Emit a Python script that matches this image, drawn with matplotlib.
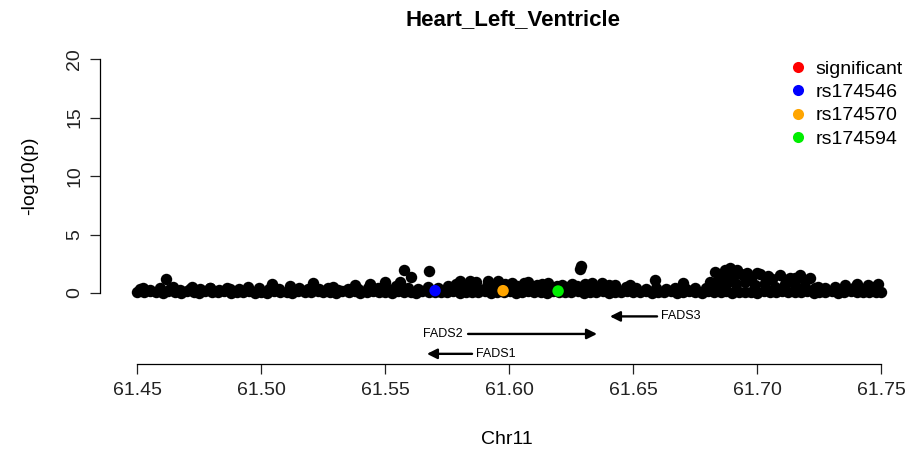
import matplotlib
matplotlib.use("Agg")
import matplotlib.pyplot as plt
from matplotlib.lines import Line2D

plt.rcParams["font.family"] = ["Liberation Sans", "DejaVu Sans"]

# ---- data ---------------------------------------------------------------
title = "Heart_Left_Ventricle"
chrom_label = "Chr11"

# SNP positions (Mb) and -log10(p)
snp_pos = [
    61.4502, 61.4527, 61.4551, 61.4578, 61.4603, 61.4626, 61.4652, 61.4677, 61.4701, 61.4728,
    61.4752, 61.4776, 61.4803, 61.4827, 61.4851, 61.4878, 61.4902, 61.4926, 61.4953, 61.4977,
    61.5001, 61.5026, 61.5052, 61.5077, 61.5103, 61.5127, 61.5151, 61.5176, 61.5202, 61.5228,
    61.5251, 61.5277, 61.5302, 61.5326, 61.5353, 61.5378, 61.5401, 61.5427, 61.5452, 61.5476,
    61.5502, 61.5528, 61.5551, 61.5577, 61.5603, 61.5626, 61.5651, 61.5678, 61.5703, 61.5727,
    61.5752, 61.5776, 61.5801, 61.5828, 61.5852, 61.5877, 61.5903, 61.5926, 61.5951, 61.5978,
    61.6003, 61.6027, 61.6052, 61.6076, 61.6101, 61.6128, 61.6152, 61.6177, 61.6203, 61.6226,
    61.6252, 61.6277, 61.6301, 61.6327, 61.6352, 61.6378, 61.6402, 61.6426, 61.6451, 61.6477,
    61.6502, 61.6528, 61.6553, 61.6576, 61.6601, 61.6627, 61.6652, 61.6676, 61.6702, 61.6727,
    61.6751, 61.6778, 61.6802, 61.6826, 61.6853, 61.6877, 61.6901, 61.6928, 61.6952, 61.6976,
    61.7002, 61.7027, 61.7051, 61.7078, 61.7102, 61.7126, 61.7153, 61.7177, 61.7201, 61.7228,
    61.7252, 61.7276, 61.7303, 61.7327, 61.7351, 61.7378, 61.7402, 61.7427, 61.7452, 61.7478,
    61.7499,
    61.4514, 61.4553, 61.4592, 61.4635, 61.4673, 61.4712, 61.4755, 61.4793, 61.4831, 61.4874,
    61.4912, 61.4951, 61.4993, 61.5032, 61.5071, 61.5113, 61.5152, 61.5190, 61.5233, 61.5271,
    61.5312, 61.5351, 61.5392, 61.5432,
    61.5473, 61.5511, 61.5552, 61.5591, 61.5633, 61.5672, 61.5714, 61.5753, 61.5791, 61.5832,
    61.5871, 61.5913, 61.5952, 61.5994, 61.6032, 61.6071, 61.6113, 61.6152, 61.6193, 61.6232,
    61.6274, 61.6313, 61.6352, 61.6391, 61.6433, 61.6472, 61.6514, 61.6553, 61.6592, 61.6634,
    61.6671, 61.6713, 61.6752, 61.6793,
    61.6833, 61.6872, 61.6914, 61.6953, 61.6992, 61.7034, 61.7073, 61.7112, 61.7154, 61.7193,
    61.7232, 61.7274, 61.7313, 61.7352, 61.7394, 61.7433, 61.7472,
    61.4616, 61.4524, 61.4645, 61.4722, 61.4794, 61.4863, 61.4948, 61.5044, 61.5117, 61.5210,
    61.5290, 61.5379, 61.5440, 61.5500, 61.5544, 61.5560, 61.5577, 61.5604, 61.5679, 61.5802,
    61.5843, 61.5915, 61.5956, 61.6012, 61.6077, 61.6157, 61.6254, 61.6290, 61.6288, 61.6335,
    61.6375, 61.6427, 61.6488, 61.6589, 61.6702, 61.6810, 61.6831, 61.6851, 61.6871, 61.6891,
    61.6919, 61.6879, 61.6960, 61.7000, 61.7012, 61.7093, 61.7133, 61.7173, 61.7214, 61.7246,
    61.7355, 61.7403, 61.7448, 61.7488,
    61.6842, 61.6862, 61.6905, 61.6935, 61.6975, 61.7045, 61.7060, 61.7115, 61.7155, 61.7195,
    61.5785, 61.5865, 61.5985, 61.6060, 61.6135, 61.6215, 61.6305, 61.6405,
]
snp_logp = [
    0.12, 0.05, 0.18, 0.08, 0.03, 0.15, 0.10, 0.04, 0.16, 0.07,
    0.02, 0.14, 0.09, 0.05, 0.17, 0.03, 0.11, 0.06, 0.13, 0.04,
    0.10, 0.03, 0.15, 0.07, 0.12, 0.02, 0.18, 0.06, 0.09, 0.14,
    0.05, 0.11, 0.03, 0.16, 0.08, 0.13, 0.04, 0.10, 0.17, 0.06,
    0.12, 0.04, 0.15, 0.07, 0.10, 0.03, 0.14, 0.08, 0.05, 0.11,
    0.06, 0.16, 0.03, 0.12, 0.09, 0.05, 0.14, 0.02, 0.11, 0.07,
    0.13, 0.04, 0.10, 0.17, 0.06, 0.12, 0.03, 0.15, 0.08, 0.05,
    0.09, 0.14, 0.04, 0.11, 0.07, 0.16, 0.02, 0.12, 0.08, 0.13,
    0.05, 0.10, 0.15, 0.03, 0.12, 0.07, 0.14, 0.04, 0.09, 0.16,
    0.08, 0.03, 0.13, 0.06, 0.11, 0.15, 0.04, 0.10, 0.07, 0.12,
    0.03, 0.14, 0.06, 0.10, 0.17, 0.05, 0.12, 0.08, 0.15, 0.02,
    0.11, 0.06, 0.13, 0.04, 0.09, 0.16, 0.07, 0.12, 0.05, 0.10,
    0.08,
    0.35, 0.28, 0.40, 0.32, 0.25, 0.38, 0.30, 0.42, 0.27, 0.36,
    0.33, 0.29, 0.41, 0.31, 0.37, 0.26, 0.39, 0.34, 0.30, 0.43,
    0.28, 0.36, 0.32, 0.40,
    0.45, 0.38, 0.55, 0.42, 0.35, 0.50, 0.40, 0.62, 0.48, 0.70,
    0.44, 0.58, 0.66, 0.52, 0.60, 0.46, 0.72, 0.55, 0.63, 0.49,
    0.57, 0.68, 0.51, 0.44, 0.39, 0.53, 0.41, 0.36, 0.47, 0.33,
    0.42, 0.38, 0.45, 0.40,
    0.60, 0.85, 0.75, 0.95, 0.70, 0.88, 0.55, 0.80, 0.65, 0.50,
    0.45, 0.40, 0.48, 0.40, 0.48, 0.35, 0.52,
    1.20, 0.45, 0.55, 0.50, 0.45, 0.45, 0.50, 0.80, 0.60, 0.85,
    0.50, 0.70, 0.80, 0.95, 0.60, 0.95, 1.95, 1.40, 1.90, 1.05,
    1.05, 1.05, 1.00, 0.85, 0.90, 0.85, 0.75, 2.30, 2.05, 0.85,
    0.85, 0.70, 0.70, 1.10, 0.85, 0.90, 1.80, 1.30, 2.00, 2.15,
    1.95, 0.85, 1.70, 1.70, 1.60, 1.50, 1.30, 1.50, 1.30, 0.50,
    0.70, 0.75, 0.70, 0.80,
    1.15, 1.55, 1.35, 1.60, 1.25, 1.45, 1.20, 1.10, 1.25, 1.00,
    0.80, 0.90, 0.75, 0.85, 0.80, 0.70, 0.80, 0.65,
]

# highlighted variants
lead_names = ["rs174546", "rs174570", "rs174594"]
lead_pos = [61.5702, 61.5976, 61.6198]
lead_logp = [0.20, 0.20, 0.17]
lead_colors = ["#0000ff", "#ffa500", "#00ee00"]

# gene track
gene_names = ["FADS3", "FADS2", "FADS1"]
gene_start = [61.6407, 61.5835, 61.5669]
gene_end = [61.6597, 61.6355, 61.5851]
gene_strand = ["-", "+", "-"]
gene_row = [-2.0, -3.5, -5.2]

# ---- layout (pixel-based axes geometry) ----------------------------------
W, H, DPI = 907, 459, 100
px_per_mb = 2480.0
px_per_unit = 11.7
x0_px, y0_px = 137, 293          # pixel of (61.45, 0)
ax_left, ax_right, ax_top, ax_bottom = 100, 907, 40, 364

fig = plt.figure(figsize=(W / DPI, H / DPI), dpi=DPI)
ax = fig.add_axes([ax_left / W, 1 - ax_bottom / H,
                   (ax_right - ax_left) / W, (ax_bottom - ax_top) / H])

ax.set_xlim(61.45 - (x0_px - ax_left) / px_per_mb,
            61.45 + (ax_right - x0_px) / px_per_mb)
ax.set_ylim(-(ax_bottom - y0_px) / px_per_unit,
            (y0_px - ax_top) / px_per_unit)

ax.scatter(snp_pos, snp_logp, s=68, color="black", linewidths=0, zorder=2)
ax.scatter(lead_pos, lead_logp, s=68, c=lead_colors, linewidths=0, zorder=3)

# genes: arrow in transcription direction, name at the TSS end
for name, s, e, strand, row in zip(gene_names, gene_start, gene_end,
                                   gene_strand, gene_row):
    tail, head = (s, e) if strand == "+" else (e, s)
    ax.annotate("", xy=(head, row), xytext=(tail, row),
                arrowprops=dict(arrowstyle="-|>,head_length=0.6,head_width=0.3",
                                lw=1.7, color="black", shrinkA=0, shrinkB=0,
                                mutation_scale=10))
    if strand == "+":
        ax.annotate(name, xy=(tail, row), xytext=(-4, 0), textcoords="offset points",
                    ha="right", va="center", fontsize=9)
    else:
        ax.annotate(name, xy=(tail, row), xytext=(3, 0), textcoords="offset points",
                    ha="left", va="center", fontsize=9)

# axes in base-R style
for side in ("top", "right"):
    ax.spines[side].set_visible(False)
ax.spines["left"].set_bounds(0, 20)
ax.spines["bottom"].set_bounds(61.45, 61.75)
ax.spines["left"].set_linewidth(0.9)
ax.spines["bottom"].set_linewidth(0.9)
ax.set_yticks([0, 5, 10, 15, 20])
ax.set_xticks([61.45, 61.50, 61.55, 61.60, 61.65, 61.70, 61.75])
ax.set_xticklabels([f"{v:.2f}" for v in ax.get_xticks()])
ax.tick_params(axis="both", direction="out", length=7, width=0.9,
               labelsize=14, colors="#222222")
ax.tick_params(axis="x", pad=6)
ax.tick_params(axis="y", pad=5)
for lab in ax.get_yticklabels():
    lab.set_rotation(90)
    lab.set_va("center")

fig.text(513 / W, 1 - 20 / H, title, ha="center", va="center",
         fontsize=16, fontweight="bold")
fig.text(507 / W, 1 - 440 / H, chrom_label, ha="center", va="center", fontsize=14)
fig.text(30 / W, 1 - 176 / H, "-log10(p)", ha="center", va="center",
         rotation=90, fontsize=14)

legend_labels = ["significant"] + lead_names
legend_colors = ["#ff0000"] + lead_colors
handles = [Line2D([], [], linestyle="none", marker="o", markersize=8,
                  markerfacecolor=c, markeredgewidth=0) for c in legend_colors]
fig.legend(handles, legend_labels, loc="upper left",
           bbox_to_anchor=(788 / W, 1 - 60 / H), frameon=False, fontsize=14,
           handlelength=1.0, handletextpad=0.4, labelspacing=0.3,
           borderpad=0, borderaxespad=0)

fig.savefig("out.png", dpi=DPI)
